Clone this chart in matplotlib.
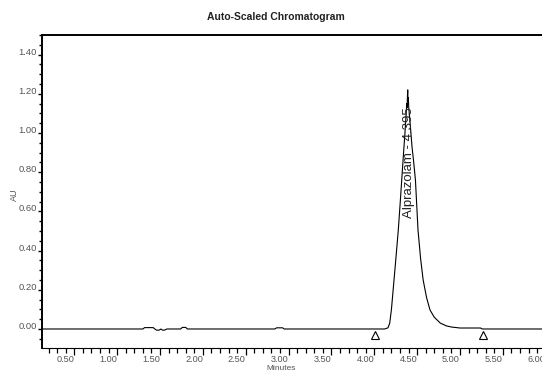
import matplotlib
matplotlib.use("Agg")
import matplotlib.pyplot as plt
from matplotlib import font_manager
from matplotlib.ticker import MultipleLocator, FormatStrFormatter

# narrow font if available, like the instrument software
def pick(fams):
    for f in fams:
        try:
            font_manager.findfont(f, fallback_to_default=False)
            return f
        except Exception:
            pass
    return 'DejaVu Sans'

narrow = pick(['Liberation Sans Narrow', 'Liberation Sans', 'Roboto'])
plt.rcParams['font.family'] = [narrow, 'DejaVu Sans']

# chromatogram trace (minutes, AU)
minutes = [0.12, 1.30, 1.32, 1.42, 1.44, 1.46, 1.49, 1.51, 1.53, 1.55, 1.58, 1.60,
           1.74, 1.76, 1.80, 1.82, 2.84, 2.86, 2.93, 2.95,
           4.12, 4.16, 4.18, 4.20, 4.22, 4.25, 4.28, 4.30, 4.32, 4.34, 4.36,
           4.372, 4.378, 4.383, 4.387, 4.390, 4.393, 4.397, 4.402, 4.41,
           4.42, 4.44, 4.46, 4.48, 4.51, 4.54, 4.57, 4.61, 4.65, 4.70,
           4.77, 4.84, 4.90, 4.98, 5.00, 5.24, 5.26, 6.05]
au = [0.0, 0.0, 0.007, 0.007, 0.0, -0.006, -0.006, 0.0, -0.006, -0.006, 0.0, 0.0,
      0.0, 0.008, 0.008, 0.0, 0.0, 0.006, 0.006, 0.0,
      0.0, 0.006, 0.03, 0.10, 0.20, 0.35, 0.505, 0.63, 0.76, 0.89, 1.015,
      1.10, 1.15, 1.13, 1.19, 1.22, 1.16, 1.18, 1.13, 1.09,
      1.04, 0.93, 0.85, 0.76, 0.505, 0.36, 0.25, 0.16, 0.097, 0.06,
      0.03, 0.016, 0.01, 0.006, 0.005, 0.005, 0.0, 0.0]

peak_label = "Alprazolam - 4.395"
peak_rt = 4.39
peak_label_au = 0.85
marks_t = [4.01, 5.27]
marks_au = [-0.03, -0.03]

fig = plt.figure(figsize=(5.42, 3.72), dpi=100)
ax = fig.add_axes([42 / 542, 24 / 372, (550 - 42) / 542, (348 - 35) / 372])

ax.plot(minutes, au, color='black', lw=0.8)
ax.plot(marks_t, marks_au, linestyle='none', marker='^', ms=6,
        mfc='white', mec='black', mew=0.8, clip_on=False)
ax.text(peak_rt + 0.01, peak_label_au, peak_label, rotation=90, ha='center',
        va='center', fontsize=9.5, color='#222222')

ax.set_xlim(0.123, 6.05)
ax.set_ylim(-0.097, 1.5)

ax.xaxis.set_major_locator(MultipleLocator(0.5))
ax.xaxis.set_minor_locator(MultipleLocator(0.1))
ax.yaxis.set_major_locator(MultipleLocator(0.2))
ax.yaxis.set_minor_locator(MultipleLocator(0.05))
ax.xaxis.set_major_formatter(FormatStrFormatter('%.2f'))
ax.yaxis.set_major_formatter(FormatStrFormatter('%.2f'))

ax.tick_params(axis='x', which='major', length=5, width=0.9, direction='out',
               labelsize=6.6, labelcolor='#555555', pad=0)
ax.tick_params(axis='x', which='minor', length=3.5, width=0.9, direction='out')
ax.tick_params(axis='y', which='major', length=3, width=1.0, direction='out',
               labelsize=6.8, labelcolor='#555555', pad=0.5)
ax.tick_params(axis='y', which='minor', length=2.5, width=1.0, direction='out')
for lab in ax.get_xticklabels():
    lab.set_ha('right')
for lab in ax.get_yticklabels():
    lab.set_va('baseline')

ax.spines['right'].set_visible(False)
ax.spines['left'].set_linewidth(1.4)
ax.spines['top'].set_linewidth(1.4)
ax.spines['bottom'].set_linewidth(0.8)

fig.text(276 / 542, 1 - 17 / 372, 'Auto-Scaled Chromatogram', ha='center',
         va='center', fontsize=7.5, fontweight='bold', color='#222222')
fig.text(14 / 542, 1 - 195 / 372, 'AU', rotation=90, ha='center', va='center',
         fontsize=6.5, color='#555555')
fig.text(281 / 542, 0, 'Minutes', ha='center', va='bottom',
         fontsize=6, color='#555555')

fig.savefig('out.png', dpi=100)
